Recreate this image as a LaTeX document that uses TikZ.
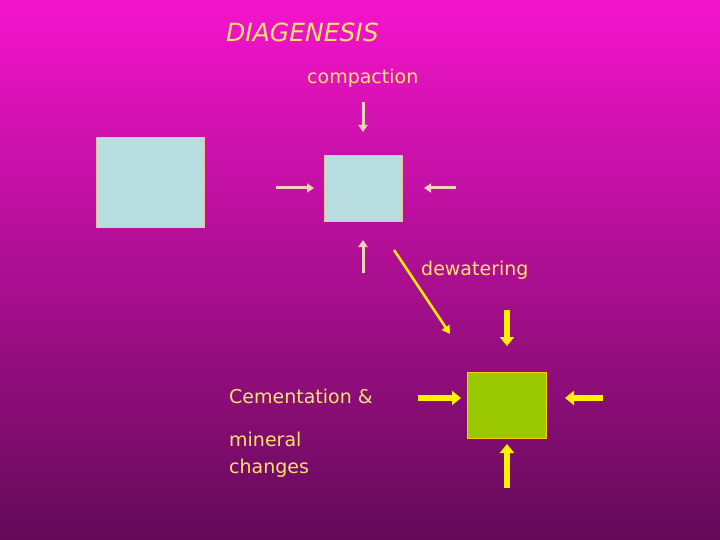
\documentclass[tikz,border=0pt]{standalone}
\usepackage{fontspec}
\setmainfont{DejaVu Sans}
\usetikzlibrary{arrows.meta}
\definecolor{txt}{HTML}{FFE070}
\definecolor{beige}{HTML}{F2D2B4}
\definecolor{ylw}{HTML}{FFF000}
\definecolor{bluebox}{HTML}{B8DDE0}
\definecolor{greenbox}{HTML}{99C800}
\definecolor{bgtop}{HTML}{F414CC}
\definecolor{bgbot}{HTML}{640A58}
\tikzset{
  lbl/.style={text=txt,anchor=west,inner sep=0pt,font=\fontsize{19}{22}\selectfont},
  thin arrow/.style={draw=beige,line width=3pt,-{Triangle[length=7pt,width=9pt]}},
  thick arrow/.style={draw=ylw,line width=6pt,-{Triangle[length=9pt,width=14pt]}},
  bbox/.style={fill=bluebox,draw=beige!80!orange,line width=1pt},
}
\begin{document}
\begin{tikzpicture}[x=1pt,y=-1pt]
\shade[top color=bgtop,bottom color=bgbot] (0,0) rectangle (720,540);
\useasboundingbox (0,0) rectangle (720,540);
\node[lbl,font=\fontsize{25}{28}\selectfont\itshape] (title) at (226,32) {DIAGENESIS};
\node[lbl] (comp) at (307,78) {compaction};
\node[lbl] (dew) at (421,270) {dewatering};
\node[lbl] (cem) at (229,396) {Cementation \&};
\node[lbl] (min) at (229,439) {mineral};
\node[lbl] (chg) at (229,468) {changes};
\path[bbox] (96,138) rectangle (204,228);
\node[bbox,minimum width=78pt,minimum height=66pt,inner sep=0pt] (sq) at (363,189) {};
\coordinate (a1) at (363,102); \coordinate (a2) at (276,188);
\coordinate (a3) at (456,188); \coordinate (a4) at (363,273);
\draw[thin arrow] (a1) -- (363,132);
\draw[thin arrow] (a2) -- (314,188);
\draw[thin arrow] (a3) -- (424,188);
\draw[thin arrow] (a4) -- (363,240);
\coordinate (d1) at (394,250); \coordinate (d2) at (450,334);
\draw[draw=ylw,line width=2.5pt,-{Triangle[length=8pt,width=9pt]}] (d1) -- (d2);
\node[fill=greenbox,draw=ylw!70!orange,line width=1pt,minimum width=79pt,minimum height=66pt,inner sep=0pt] (g) at (507,405) {};
\coordinate (b1) at (507,310); \coordinate (b2) at (418,398);
\coordinate (b3) at (603,398); \coordinate (b4) at (507,488);
\draw[thick arrow] (b1) -- (507,346);
\draw[thick arrow] (b2) -- (461,398);
\draw[thick arrow] (b3) -- (565,398);
\draw[thick arrow] (b4) -- (507,444);
\end{tikzpicture}
\end{document}
